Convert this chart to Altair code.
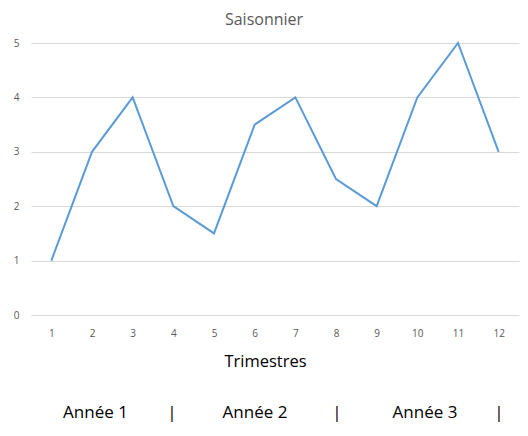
import altair as alt
import pandas as pd

trimestres = list(range(1, 13))
valeurs = [1, 3, 4, 2, 1.5, 3.5, 4, 2.5, 2, 4, 5, 3]

annee_labels = ["Année 1", "|", "Année 2", "|", "Année 3", "|"]
annee_x = [64.5, 141, 224, 306, 394, 468]

df = pd.DataFrame({"Trimestre": trimestres, "Valeur": valeurs})

FONT = "Open Sans"

line = alt.Chart(df).mark_line(color="#5B9BD5", strokeWidth=2).encode(
    x=alt.X("Trimestre:Q",
            scale=alt.Scale(domain=[0.5, 12.5], nice=False, zero=False),
            axis=alt.Axis(title="Trimestres", values=trimestres, format="d", grid=False,
                          labelAngle=0, domain=False, ticks=False,
                          labelColor="#595959", labelFontSize=10, labelPadding=13,
                          labelFont=FONT, titleFont=FONT, titleFontSize=16.5,
                          titleFontWeight="normal", titleColor="#000000", titlePadding=15,
                          titleX=234, titleAlign="center")),
    y=alt.Y("Valeur:Q", scale=alt.Scale(domain=[0, 5], nice=False),
            axis=alt.Axis(title=None, values=[0, 1, 2, 3, 4, 5], format="d", domain=False,
                          ticks=False, labelColor="#595959", labelFontSize=10,
                          labelPadding=12, labelFont=FONT, gridColor="#D9D9D9")),
)

texts = []
for lab, xv in zip(annee_labels, annee_x):
    texts.append(
        alt.Chart(pd.DataFrame({"t": [lab]})).mark_text(
            font=FONT, fontSize=17, color="#000000", baseline="middle", align="center"
        ).encode(text="t:N", x=alt.value(xv), y=alt.value(370))
    )

chart = alt.layer(line, *texts).properties(
    width=488, height=272,
    title=alt.TitleParams("Saisonnier", font=FONT, fontSize=16, fontWeight="normal",
                          color="#595959", offset=10, anchor="middle", dx=-11),
    autosize=alt.AutoSizeParams(type="none"),
    padding={"left": 23, "top": 35, "right": 1, "bottom": 118},
).configure_view(stroke=None)

chart.save("out.html", embed_options={"renderer": "svg", "actions": False})
